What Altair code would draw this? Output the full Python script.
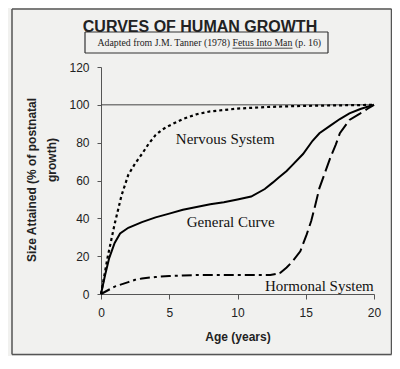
import altair as alt
import pandas as pd

# ---- data ----
nerv_age = [0, 0.25, 0.5, 1, 1.5, 2, 2.5, 3, 3.5, 4, 4.5, 5, 6, 7, 8, 10, 12, 14, 16, 18, 20]
nerv_val = [0, 10, 20, 37, 52, 63, 69, 74, 79.5, 84, 87, 89, 92.5, 95, 96.5, 98, 98.8, 99.3, 99.6, 99.8, 100]

gen_age = [0, 0.3, 0.6, 1, 1.4, 2, 3, 4, 5, 6, 7, 8, 9, 10, 11, 12, 12.6, 13, 13.6, 14, 14.8, 15.5, 16, 16.8, 17.5, 18.2, 19, 19.7, 20]
gen_val = [0, 10, 19, 27, 32, 35, 38, 40.5, 42.5, 44.5, 46, 47.5, 48.5, 50, 51.5, 55.5, 59, 61.5, 65, 68, 74, 81, 85, 89, 92.5, 95.5, 97.8, 99.4, 100]

horm1_age = [0, 1, 2, 2.5, 3, 4, 4.4, 5, 6, 7, 8, 9, 10, 11, 12, 12.4, 13.1]
horm1_val = [0, 3.9, 6.3, 7.5, 8.2, 9, 9.2, 9.5, 9.8, 10, 10, 10, 10, 10, 10, 10, 11]

horm2_age = [13.1, 13.6, 14, 14.6, 15.07, 15.4, 15.7, 16, 16.4, 16.8, 17.2, 17.5, 18.2, 19, 19.5, 20]
horm2_val = [11, 14, 17, 22.6, 31.5, 38.6, 47, 56, 64, 72, 79, 85, 92, 95.5, 97.8, 100]

label_text = ["Nervous System", "General Curve", "Hormonal System"]
label_age = [9.1, 9.5, 16.0]
label_val = [82, 38, 4.3]

x_ticks = [0, 5, 10, 15, 20]
y_ticks = [0, 20, 40, 60, 80, 100, 120]
ref_line = [100]

title_text = "CURVES OF HUMAN GROWTH"
sub_a = "Adapted from J.M. Tanner (1978)"
sub_b = "Fetus Into Man"
sub_c = "(p. 16)"
ytitle_1 = "Size Attained (% of postnatal"
ytitle_2 = "growth)"
xtitle = "Age (years)"

SANS = "Liberation Sans"
SERIF = "Liberation Serif"

xs = alt.Scale(domain=[0, 20], nice=False, padding=0, zero=False)
ys = alt.Scale(domain=[0, 120], nice=False, padding=0, zero=False)

x_axis = alt.Axis(values=x_ticks, title=xtitle, grid=False, tickSize=5,
                  labelPadding=8, labelFont=SANS, labelFontSize=12,
                  labelColor="#222", titleFont=SANS, titleFontSize=12,
                  titleFontWeight="bold", titleColor="#222", titlePadding=13,
                  labelFlush=False, labelOverlap=False,
                  domainColor="#555", tickColor="#555")
y_axis = alt.Axis(values=y_ticks, title=None, grid=False, tickSize=4,
                  labelPadding=8, labelFont=SANS, labelFontSize=12,
                  labelColor="#222", labelFlush=False, labelOverlap=False,
                  domainColor="#555", tickColor="#555")

def line_df(a, v):
    return pd.DataFrame({"age": a, "size": v})

X = alt.X("age:Q", scale=xs, axis=x_axis)
Y = alt.Y("size:Q", scale=ys, axis=y_axis)

general = alt.Chart(line_df(gen_age, gen_val)).mark_line(
    color="black", strokeWidth=2).encode(x=X, y=Y)
nervous = alt.Chart(line_df(nerv_age, nerv_val)).mark_line(
    color="black", strokeWidth=2.2, strokeDash=[3, 3]).encode(x=X, y=Y)
horm1 = alt.Chart(line_df(horm1_age, horm1_val)).mark_line(
    color="black", strokeWidth=2, strokeDash=[10, 4, 3, 4]).encode(x=X, y=Y)
horm2 = alt.Chart(line_df(horm2_age, horm2_val)).mark_line(
    color="black", strokeWidth=2, strokeDash=[14, 5]).encode(x=X, y=Y)

hundred = alt.Chart(pd.DataFrame({"size": ref_line})).mark_rule(
    color="#444", strokeWidth=1).encode(y=Y)

labels = alt.Chart(pd.DataFrame({"t": label_text, "age": label_age, "size": label_val})).mark_text(
    font=SERIF, fontSize=15, color="#111", baseline="middle", align="center").encode(
    x=X, y=Y, text="t:N")

one = pd.DataFrame({"k": [0]})

def hline(x1, x2, y, color, w):
    return alt.Chart(one).mark_rule(color=color, strokeWidth=w).encode(
        x=alt.value(x1), x2=alt.value(x2), y=alt.value(y))

def vline(x, y1, y2, color, w):
    return alt.Chart(one).mark_rule(color=color, strokeWidth=w).encode(
        x=alt.value(x), y=alt.value(y1), y2=alt.value(y2))

# outer frame and subtitle box
F_L, F_R, F_T, F_B = -89, 290.5, -58, 287.5
frame = [hline(F_L, F_R, F_T, "#555", 1.5), hline(F_L, F_R, F_B, "#555", 1.5),
         vline(F_L, F_T, F_B, "#555", 1.5), vline(F_R, F_T, F_B, "#555", 1.5)]
B_L, B_R, B_T, B_B = -16, 227, -35, -14
subbox = [hline(B_L, B_R, B_T, "#333", 1.2), hline(B_L, B_R, B_B, "#333", 1.2),
          vline(B_L, B_T, B_B, "#333", 1.2), vline(B_R, B_T, B_B, "#333", 1.2)]

title = alt.Chart(one).mark_text(text=title_text, font=SANS, fontSize=16, fontWeight="bold",
                                 color="#222", align="center", baseline="alphabetic").encode(
    x=alt.value(99), y=alt.value(-35))
SUB_FS = 9.8
sa = alt.Chart(one).mark_text(text=sub_a, font=SERIF, fontSize=SUB_FS, color="#222",
                              align="right", baseline="alphabetic").encode(
    x=alt.value(129), y=alt.value(-21))
sb = alt.Chart(one).mark_text(text=sub_b, font=SERIF, fontSize=SUB_FS, color="#222",
                              align="left", baseline="alphabetic").encode(
    x=alt.value(131.5), y=alt.value(-21))
sc = alt.Chart(one).mark_text(text=sub_c, font=SERIF, fontSize=SUB_FS, color="#222",
                              align="left", baseline="alphabetic").encode(
    x=alt.value(194), y=alt.value(-21))
underline = hline(131.5, 191.5, -18.8, "#222", 0.8)
yt1 = alt.Chart(one).mark_text(text=ytitle_1, font=SANS, fontSize=12, fontWeight="bold",
                               color="#222", angle=270, align="center", baseline="middle").encode(
    x=alt.value(-69), y=alt.value(113))
yt2 = alt.Chart(one).mark_text(text=ytitle_2, font=SANS, fontSize=12, fontWeight="bold",
                               color="#222", angle=270, align="center", baseline="middle").encode(
    x=alt.value(-49), y=alt.value(93))

chart = alt.layer(
    general, hundred, nervous, horm1, horm2, labels,
    *frame, *subbox, title, sa, sb, sc, underline, yt1, yt2
).properties(
    width=273, height=227,
    autosize=alt.AutoSizeParams(type="none"),
    padding={"left": 93, "top": 59, "right": 18, "bottom": 62},
    background="#f1f1ef",
).configure_view(stroke=None)

chart.save("out.html", embed_options={"renderer": "svg", "actions": False})
